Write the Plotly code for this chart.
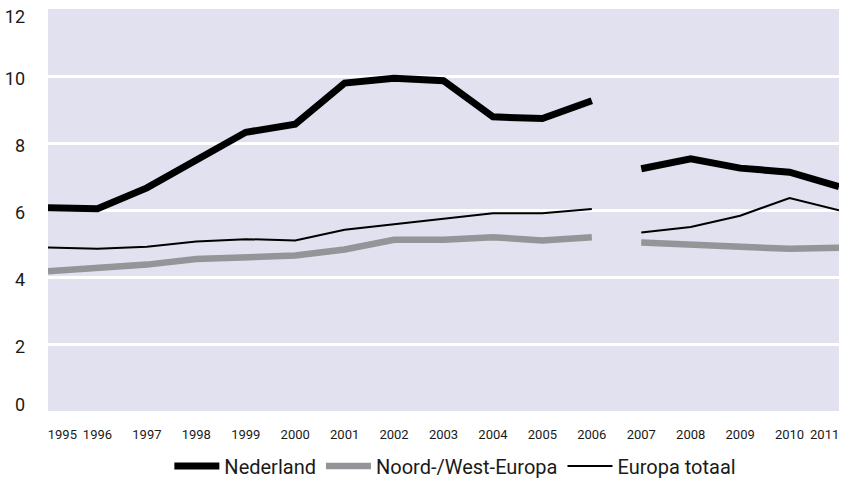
import plotly.graph_objects as go

years = list(range(1995, 2012))
year_labels = [str(y) for y in years]

nederland = [6.07, 6.04, 6.66, 7.47, 8.32, 8.56, 9.79, 9.93, 9.86, 8.78, 8.73, 9.26,
             7.23, 7.53, 7.25, 7.13, 6.70]
noord_west = [4.17, 4.27, 4.37, 4.54, 4.57, 4.64, 4.82, 5.11, 5.11, 5.19, 5.09, 5.19,
              5.03, 4.98, 4.91, 4.84, 4.87]
europa = [4.88, 4.84, 4.90, 5.06, 5.13, 5.09, 5.41, 5.58, 5.73, 5.90, 5.90, 6.03,
          5.33, 5.49, 5.83, 6.36, 5.99]

y_ticks = [0, 2, 4, 6, 8, 10, 12]
y_labels = [str(v) for v in y_ticks]

series = [
    ("Nederland", nederland, "#000000", 7, "y"),
    ("Noord-/West-Europa", noord_west, "#939598", 6.5, "y"),
    ("Europa totaal", europa, "#000000", 2, "y2"),
]

split = years.index(2007)
FONT = "Roboto, Arial, sans-serif"
TXT = "#1a1a1a"

fig = go.Figure()
for name, vals, color, width, yax in series:
    for part, (xs, ys) in enumerate([(years[:split], vals[:split]), (years[split:], vals[split:])]):
        fig.add_trace(go.Scatter(
            x=xs, y=ys, mode="lines", name=name, legendgroup=name,
            showlegend=(part == 0), yaxis=yax,
            line=dict(color=color, width=width),
            hoverinfo="skip",
        ))

# tick label positions: centred on the years, end labels pulled inside the plot
x_tickvals = [float(y) for y in years]
x_tickvals[0] = years[0] + 0.29
x_tickvals[-1] = years[-1] - 0.29
y_tickvals = [min(max(v - 0.08, 0.19), 11.77) for v in y_ticks]

fig.update_layout(
    width=843, height=483,
    margin=dict(l=48, r=4, t=9, b=72, autoexpand=False),
    paper_bgcolor="white",
    plot_bgcolor="#e1e1ef",
    font=dict(family=FONT, color=TXT),
    xaxis=dict(
        range=[years[0], years[-1]], automargin=False,
        tickvals=x_tickvals, ticktext=year_labels,
        showgrid=False, zeroline=False, showline=False, ticks="",
        tickfont=dict(size=13, color=TXT, family=FONT),
        ticklabelstandoff=14,
    ),
    yaxis=dict(
        range=[0, 12], tickvals=[2, 4, 6, 8, 10], automargin=False,
        showticklabels=False, showgrid=True, gridcolor="white", gridwidth=2.5,
        zeroline=False, showline=False, ticks="",
    ),
    yaxis2=dict(
        overlaying="y", side="left", range=[0, 12], automargin=False,
        tickvals=y_tickvals, ticktext=y_labels,
        showgrid=False, zeroline=False, showline=False, ticks="",
        tickfont=dict(size=18, color=TXT, family=FONT),
        ticklabelstandoff=22,
    ),
    legend=dict(
        orientation="h", x=0.515, xanchor="center", y=-0.088, yanchor="top",
        font=dict(size=20, color=TXT, family=FONT),
        itemwidth=45,
        bgcolor="rgba(0,0,0,0)",
    ),
    showlegend=True,
)

fig.write_html(
    "out.html",
    config={"displayModeBar": False},
    post_script="document.body.style.margin='0';document.body.style.overflow='hidden';",
)
